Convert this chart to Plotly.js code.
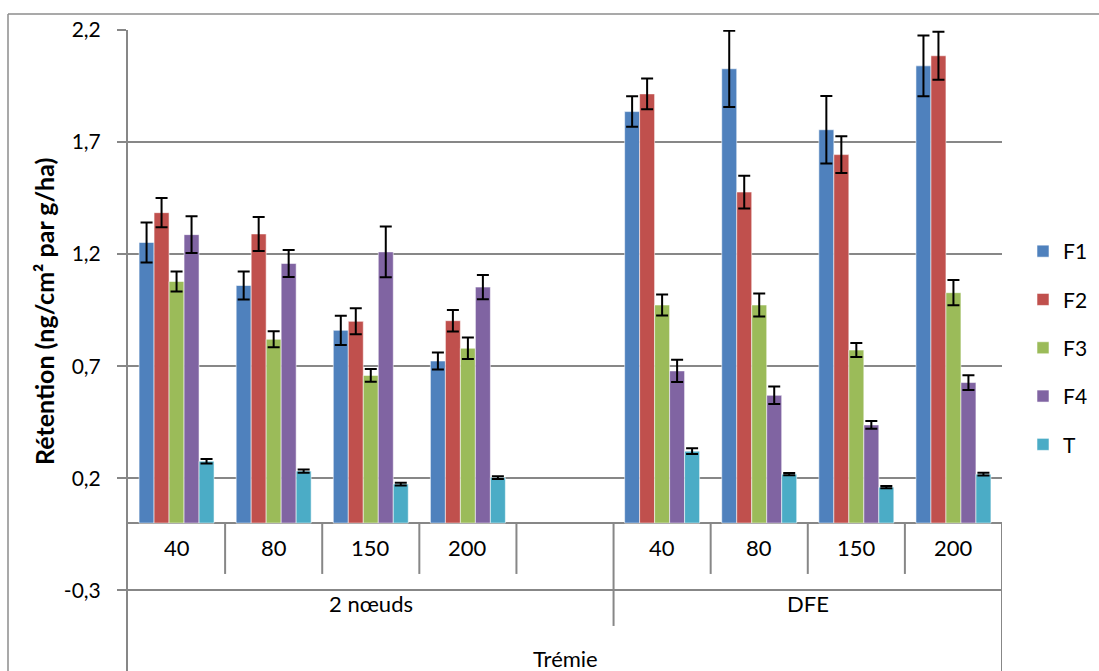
<!DOCTYPE html>
<html>
<head>
<meta charset="utf-8">
<script src="https://cdn.plot.ly/plotly-3.0.1.min.js"></script>
<style>html,body{margin:0;padding:0;background:#fff;}#chart{width:1099px;height:671px;}</style>
</head>
<body>
<div id="chart"></div>
<script>
// Category labels
const groups = ['2 nœuds', 'DFE'];
const groupSlots = [[0, 4], [5, 8]];
const doses = ['40', '80', '150', '200', '', '40', '80', '150', '200'];
const seriesNames = ['F1', 'F2', 'F3', 'F4', 'T'];
const axisTitleX = 'Trémie';
const axisTitleY = 'Rétention (ng/cm² par g/ha)';
const yTicks = [-0.3, 0.2, 0.7, 1.2, 1.7, 2.2];
const yTickText = ['-0,3', '0,2', '0,7', '1,2', '1,7', '2,2'];

// Values (null = empty slot)
const F1 = [1.252, 1.060, 0.860, 0.723, null, 1.836, 2.027, 1.755, 2.040];
const F2 = [1.385, 1.290, 0.900, 0.903, null, 1.915, 1.477, 1.644, 2.085];
const F3 = [1.078, 0.820, 0.659, 0.780, null, 0.973, 0.973, 0.772, 1.028];
const F4 = [1.287, 1.158, 1.210, 1.053, null, 0.679, 0.570, 0.438, 0.627];
const T  = [0.276, 0.232, 0.174, 0.203, null, 0.321, 0.218, 0.160, 0.218];

// Error bars
const F1err = [0.089, 0.063, 0.065, 0.038, null, 0.068, 0.170, 0.151, 0.136];
const F2err = [0.065, 0.076, 0.058, 0.048, null, 0.069, 0.073, 0.082, 0.107];
const F3err = [0.045, 0.036, 0.028, 0.048, null, 0.047, 0.051, 0.031, 0.056];
const F4err = [0.082, 0.060, 0.113, 0.054, null, 0.050, 0.039, 0.017, 0.033];
const Terr  = [0.010, 0.007, 0.006, 0.006, null, 0.013, 0.005, 0.005, 0.006];

const colors = ['#4F81BD', '#C0504D', '#9BBB59', '#8064A2', '#4BACC6'];
const values = [F1, F2, F3, F4, T];
const errs = [F1err, F2err, F3err, F4err, Terr];
const xs = doses.map((d, i) => i);
const FONT = 'Lato, "Open Sans", sans-serif';
const GRID = '#878787';
const FS = 21;
const FSCAT = 22;

const traces = seriesNames.map((n, k) => ({
  type: 'bar',
  name: n,
  x: xs,
  y: values[k],
  legendgroup: n,
  marker: {color: colors[k], line: {color: 'rgba(255,255,255,0.55)', width: 1}},
  error_y: {type: 'data', array: errs[k], visible: true, color: '#000', thickness: 2, width: 6},
  hoverinfo: 'skip'
}));

// Category label geometry (data units)
const yLevel1 = -0.107, yLevel2 = -0.361, yTitle = -0.606;
const yDiv1 = -0.227, yDiv2 = -0.459, yBottom = -0.66;

const annotations = [];
doses.forEach((d, i) => {
  if (d) annotations.push({x: i, y: yLevel1, xref: 'x', yref: 'y', text: d, showarrow: false,
    font: {family: FONT, size: FSCAT, color: '#000'}});
});
groups.forEach((g, j) => {
  annotations.push({x: (groupSlots[j][0] + groupSlots[j][1]) / 2, y: yLevel2, xref: 'x', yref: 'y', text: g,
    showarrow: false, font: {family: FONT, size: FSCAT, color: '#000'}});
});
annotations.push({x: (doses.length - 1) / 2, y: yTitle, xref: 'x', yref: 'y', text: axisTitleX, showarrow: false,
  font: {family: FONT, size: FSCAT, color: '#000'}});
annotations.push({x: (44 - 128) / 874, y: (671 - 312) / 641, xref: 'paper', yref: 'paper',
  text: '<b>' + axisTitleY + '</b>', textangle: -90, showarrow: false, xanchor: 'center', yanchor: 'middle',
  font: {family: FONT, size: 25, color: '#000'}});

const shapes = [];
for (let k = 1; k < doses.length; k++) {
  const xb = k - 0.5;
  const isGroupEdge = groupSlots.some(s => s[1] + 0.5 === xb);
  shapes.push({type: 'line', xref: 'x', yref: 'y', x0: xb, x1: xb, y0: 0, y1: isGroupEdge ? yDiv2 : yDiv1,
    line: {color: GRID, width: 2}});
}
shapes.push({type: 'line', xref: 'x', yref: 'y', x0: doses.length - 0.5, x1: doses.length - 0.5, y0: 0, y1: yBottom,
  line: {color: GRID, width: 2}});
// outer chart border
shapes.push({type: 'line', xref: 'paper', yref: 'paper', x0: (8 - 128) / 874, x1: (8 - 128) / 874, y0: -0.1, y1: (671 - 14) / 641,
  line: {color: '#8c8c8c', width: 1.5}});
shapes.push({type: 'line', xref: 'paper', yref: 'paper', x0: (8 - 128) / 874, x1: (1105 - 128) / 874, y0: (671 - 14) / 641, y1: (671 - 14) / 641,
  line: {color: '#8c8c8c', width: 1.5}});

const layout = {
  width: 1099, height: 671,
  margin: {l: 128, r: 97, t: 30, b: 0},
  paper_bgcolor: '#fff', plot_bgcolor: '#fff',
  barmode: 'group', bargap: 0.228, bargroupgap: 0,
  showlegend: true,
  legend: {x: (1023 - 128) / 874, xanchor: 'left', y: (671 - 231) / 641, yanchor: 'top',
    font: {family: FONT, size: FS, color: '#000'}, tracegroupgap: 18, traceorder: 'grouped',
    bgcolor: 'rgba(0,0,0,0)', borderwidth: 0},
  xaxis: {range: [-0.5, doses.length - 0.5], showticklabels: false, ticks: '', showgrid: false, zeroline: false,
    showline: false, fixedrange: true},
  yaxis: {range: [yBottom, 2.2], tickvals: yTicks, ticktext: yTickText, ticks: 'outside', ticklen: 9, tickwidth: 2,
    tickcolor: GRID, showgrid: true, gridcolor: GRID, gridwidth: 2, showline: true, linecolor: GRID, linewidth: 2,
    zeroline: true, zerolinecolor: GRID, zerolinewidth: 2, ticklabelstandoff: 12,
    tickfont: {family: FONT, size: FS, color: '#000'}, fixedrange: true},
  annotations: annotations,
  shapes: shapes
};

Plotly.newPlot('chart', traces, layout, {staticPlot: true, displayModeBar: false});
</script>
</body>
</html>
